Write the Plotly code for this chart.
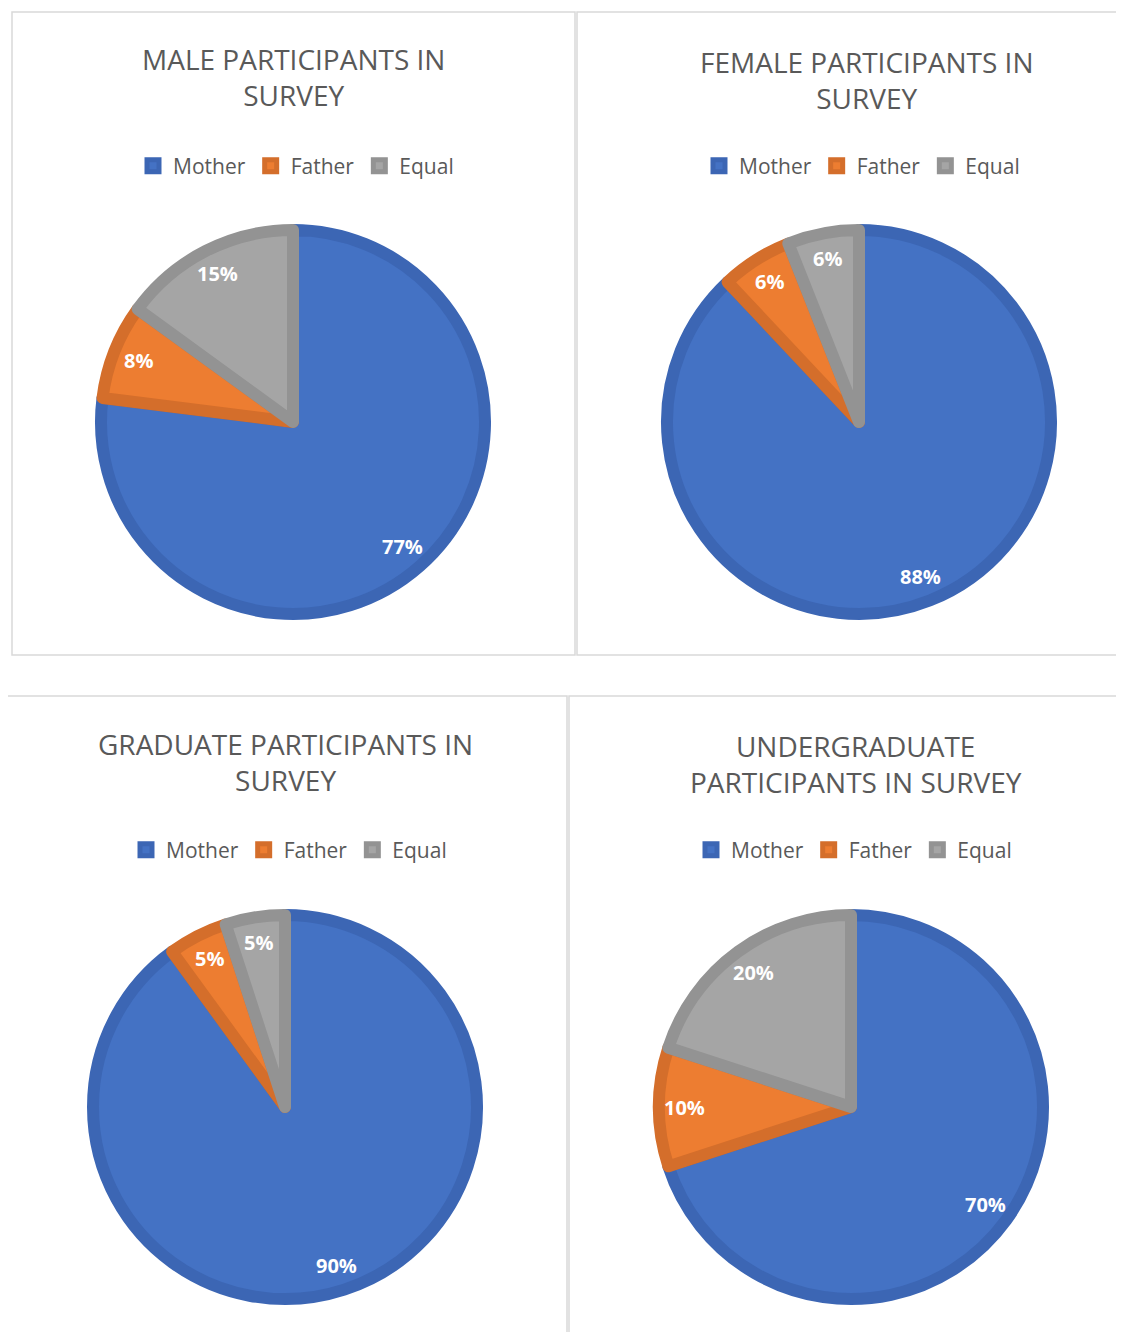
import math
import plotly.graph_objects as go

# page body has an 8px default margin; figure coordinates are offset accordingly
OFF = 8
W, H = 1116, 1324

categories = ["Mother", "Father", "Equal"]
titles = [
    "MALE PARTICIPANTS IN<br>SURVEY",
    "FEMALE PARTICIPANTS IN<br>SURVEY",
    "GRADUATE PARTICIPANTS IN<br>SURVEY",
    "UNDERGRADUATE<br>PARTICIPANTS IN SURVEY",
]
male_values = [77, 8, 15]
female_values = [88, 6, 6]
graduate_values = [90, 5, 5]
undergrad_values = [70, 10, 20]
all_values = [male_values, female_values, graduate_values, undergrad_values]

fill_colors = ["#4472C4", "#ED7D31", "#A5A5A5"]
edge_colors = ["#3C66B4", "#D46E2B", "#939393"]

# layout geometry (page pixels)
panels = [(12, 12, 575, 655), (577, 12, 1140, 655), (4, 696, 567, 1345), (569, 696, 1140, 1345)]
centers = [(293, 422), (859, 422), (285, 1107), (851, 1107)]
title_pos = [(293, 77), (866, 80), (285, 762), (856, 764)]
legend_pos = [(296, 166), (862, 166), (289, 850), (854, 850)]
outer_r = 198
line_w = 12
pie_r = outer_r - line_w / 2


def px(x):
    return (x - OFF) / W


def py(y):
    return 1 - (y - OFF) / H


fig = go.Figure()
shapes = []
annotations = []
legend_names = ["legend", "legend2", "legend3", "legend4"]
legends = {}

for i, vals in enumerate(all_values):
    cx, cy = centers[i]
    # zero-width spaces keep each chart's legend entries distinct (pie legends dedupe by label)
    labels = [c + "\u200b" * i for c in categories]
    fig.add_trace(go.Pie(
        labels=labels,
        values=vals,
        sort=False,
        direction="clockwise",
        rotation=0,
        textinfo="none",
        hoverinfo="label+percent",
        marker=dict(colors=fill_colors, line=dict(color=edge_colors, width=line_w)),
        domain=dict(x=[px(cx - pie_r), px(cx + pie_r)], y=[py(cy + pie_r), py(cy - pie_r)]),
        legend=legend_names[i],
        showlegend=True,
    ))
    x0, y0, x1, y1 = panels[i]
    shapes.append(dict(type="rect", xref="paper", yref="paper",
                       x0=px(x0), x1=px(x1), y0=py(y1), y1=py(y0),
                       line=dict(color="#D9D9D9", width=1.5), fillcolor="rgba(0,0,0,0)", layer="below"))
    tx, ty = title_pos[i]
    annotations.append(dict(text=titles[i], x=px(tx), y=py(ty), xref="paper", yref="paper",
                            xanchor="center", yanchor="middle", showarrow=False,
                            font=dict(family="Open Sans", size=28, color="#595959")))
    # data labels at ~0.84 of the radius along each slice's mid angle
    total = sum(vals)
    acc = 0
    for v in vals:
        mid = (acc + v / 2) / total * 2 * math.pi
        acc += v
        r = 0.84 * outer_r
        annotations.append(dict(text=f"{round(v / total * 100)}%",
                                x=px(cx + r * math.sin(mid)), y=py(cy - r * math.cos(mid)),
                                xref="paper", yref="paper", xanchor="center", yanchor="middle",
                                showarrow=False,
                                font=dict(family="Open Sans", size=20, color="white", weight="bold")))
    lx, ly = legend_pos[i]
    legends[legend_names[i]] = dict(
        orientation="h", x=px(lx), y=py(ly), xanchor="center", yanchor="middle",
        font=dict(family="Open Sans", size=21, color="#595959"),
        bgcolor="rgba(0,0,0,0)", itemwidth=30, itemclick=False, itemdoubleclick=False,
    )

fig.update_layout(
    width=W, height=H, autosize=False,
    margin=dict(l=0, r=0, t=0, b=0),
    paper_bgcolor="white", plot_bgcolor="white",
    shapes=shapes, annotations=annotations,
    **legends,
)

fig.write_html("out.html")
